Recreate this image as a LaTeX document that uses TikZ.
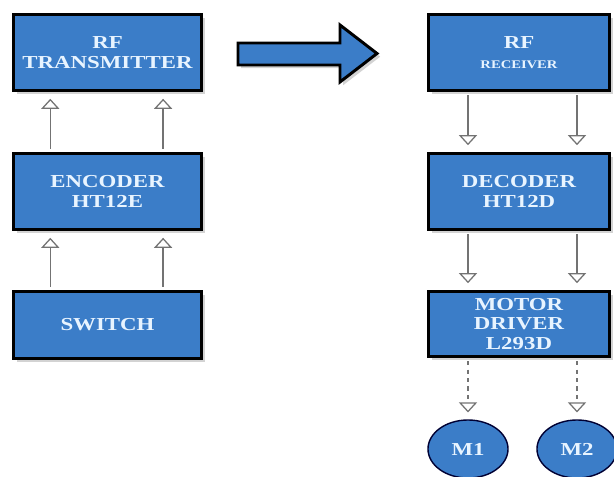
\documentclass[tikz,border=0pt]{standalone}
\usepackage{fontspec}
\usepackage{tikz}
\usetikzlibrary{arrows.meta,shapes.geometric,shadows}
\newfontfamily\blockfont[FakeStretch=1.25]{Liberation Serif}
\definecolor{blockblue}{RGB}{59,125,200}
\definecolor{blocktext}{RGB}{232,244,255}

\begin{document}
\begin{tikzpicture}[x=0.025cm, y=-0.025cm,
	block/.style={draw=black, line width=2.1pt, fill=blockblue, text=blocktext, align=center,
		font=\blockfont\bfseries\fontsize{13}{14}\selectfont, inner sep=0pt,
		drop shadow={shadow xshift=0.08cm, shadow yshift=-0.08cm, opacity=0.35}},
	motor/.style={ellipse, draw=black!80!blue, line width=1pt, fill=blockblue, text=blocktext,
		font=\blockfont\bfseries\fontsize{13}{14}\selectfont, minimum width=2cm, minimum height=1.45cm, inner sep=0pt},
	link/.style={draw=black!55, line width=0.9pt, -{Triangle[open, width=0.45cm, length=0.25cm]},
		shorten <=0.08cm, shorten >=0.17cm}]
	\useasboundingbox (0,0) rectangle (614,477);
	\node[block, minimum width=4.7cm, minimum height=1.9cm] (tx) at (107.5,52.5) {RF\\TRANSMITTER};
	\node[block, minimum width=4.7cm, minimum height=1.9cm] (enc) at (107.5,191.5) {ENCODER\\HT12E};
	\node[block, minimum width=4.7cm, minimum height=1.675cm] (sw) at (107.5,325) {SWITCH};
	\node[block, minimum width=4.53cm, minimum height=1.9cm] (rx) at (519,52.5) {RF\\{\fontsize{8.3}{9}\selectfont RECEIVER}};
	\node[block, minimum width=4.53cm, minimum height=1.9cm] (dec) at (519,191.5) {DECODER\\HT12D};
	\node[block, minimum width=4.53cm, minimum height=1.625cm] (drv) at (519,324) {MOTOR\\DRIVER\\L293D};
	\node[motor] (m1) at (468,449) {M1};
	\node[motor] (m2) at (577,449) {M2};
	\draw[link] ([xshift=-1.43cm]sw.north) -- ([xshift=-1.43cm]enc.south);
	\draw[link] ([xshift=1.39cm]sw.north) -- ([xshift=1.39cm]enc.south);
	\draw[link] ([xshift=-1.43cm]enc.north) -- ([xshift=-1.43cm]tx.south);
	\draw[link] ([xshift=1.39cm]enc.north) -- ([xshift=1.39cm]tx.south);
	\draw[link] (rx.south -| m1) -- (dec.north -| m1);
	\draw[link] (rx.south -| m2) -- (dec.north -| m2);
	\draw[link] (dec.south -| m1) -- (drv.north -| m1);
	\draw[link] (dec.south -| m2) -- (drv.north -| m2);
	\draw[link, dashed] (drv.south -| m1) -- (m1.north);
	\draw[link, dashed] (drv.south -| m2) -- (m2.north);
	\draw[line width=2.1pt, fill=blockblue, drop shadow={shadow xshift=0.08cm, shadow yshift=-0.08cm, opacity=0.35}]
		(238,43) -- (340,43) -- (340,25) -- (377,53.5) -- (340,82) -- (340,65) -- (238,65) -- cycle;
\end{tikzpicture}
\end{document}
